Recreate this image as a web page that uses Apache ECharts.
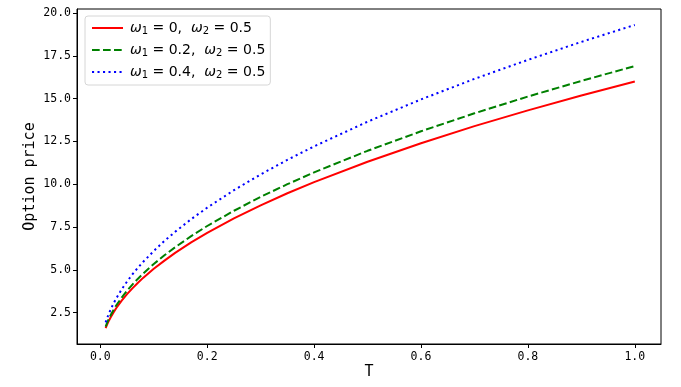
<!DOCTYPE html>
<html>
<head>
<meta charset="utf-8">
<script src="https://cdn.jsdelivr.net/npm/echarts@6/dist/echarts.min.js"></script>
<style>
  html, body { margin: 0; padding: 0; background: #fff; }
  #main { width: 681px; height: 387px; }
</style>
</head>
<body>
<div id="main"></div>
<script>
// values
const T = [0.01, 0.0125, 0.015, 0.02, 0.025, 0.03, 0.04, 0.05, 0.06, 0.07, 0.08, 0.1, 0.12, 0.14, 0.17, 0.2, 0.25, 0.3, 0.35, 0.4, 0.5, 0.6, 0.7, 0.8, 0.9, 1.0]
const priceW0 = [1.60, 1.79, 1.96, 2.26, 2.53, 2.77, 3.20, 3.58, 3.92, 4.23, 4.53, 5.06, 5.54, 5.99, 6.60, 7.16, 8.00, 8.76, 9.47, 10.12, 11.31, 12.39, 13.39, 14.31, 15.18, 16.00]
const priceW02 = [1.69, 1.89, 2.07, 2.39, 2.67, 2.93, 3.38, 3.78, 4.14, 4.47, 4.78, 5.34, 5.85, 6.32, 6.97, 7.56, 8.45, 9.26, 10.00, 10.69, 11.95, 13.09, 14.14, 15.12, 16.03, 16.90]
const priceW04 = [1.93, 2.16, 2.36, 2.73, 3.05, 3.34, 3.86, 4.32, 4.73, 5.11, 5.46, 6.10, 6.69, 7.22, 7.96, 8.63, 9.65, 10.57, 11.42, 12.21, 13.65, 14.95, 16.15, 17.26, 18.31, 19.30]
const xTicks = [0, 0.2, 0.4, 0.6, 0.8, 1.0]
const yTicks = [2.5, 5, 7.5, 10, 12.5, 15, 17.5, 20]
const seriesNames = ['w0', 'w02', 'w04']
const legendText = {
  w0: '{i|ω}{s|1}{t| = 0,  }{i|ω}{s|2}{t| = 0.5}',
  w02: '{i|ω}{s|1}{t| = 0.2,  }{i|ω}{s|2}{t| = 0.5}',
  w04: '{i|ω}{s|1}{t| = 0.4,  }{i|ω}{s|2}{t| = 0.5}'
}

const pair = (xs, ys) => xs.map((x, i) => [x, ys[i]])
const tickFont = { fontFamily: 'DejaVu Sans Mono', fontSize: 11.5, color: '#000' }

const chart = echarts.init(document.getElementById('main'), null, { renderer: 'canvas' })
chart.setOption({
  animation: false,
  backgroundColor: '#fff',
  grid: {
    left: 77, right: 20, top: 9, bottom: 43,
    show: true, borderColor: '#000', borderWidth: 1, backgroundColor: 'transparent'
  },
  legend: {
    orient: 'vertical',
    left: 85, top: 16,
    padding: [5, 5, 5, 6],
    itemWidth: 31, itemHeight: 14, itemGap: 7,
    backgroundColor: 'rgba(255,255,255,0.8)',
    borderColor: '#d6d6d6', borderWidth: 1, borderRadius: 3,
    data: seriesNames,
    formatter: n => legendText[n],
    itemStyle: { opacity: 0 },
    textStyle: {
      color: '#000',
      padding: [0, 0, 0, 2],
      rich: {
        i: { fontFamily: 'DejaVu Sans', fontStyle: 'italic', fontSize: 14, color: '#000' },
        s: { fontFamily: 'DejaVu Sans', fontSize: 10, color: '#000', verticalAlign: 'bottom', padding: [6, 0, 0, 0] },
        t: { fontFamily: 'DejaVu Sans', fontSize: 14, color: '#000' }
      }
    }
  },
  xAxis: {
    type: 'value',
    min: -0.0436, max: 1.049,
    name: 'T', nameLocation: 'middle', nameGap: 21, nameMoveOverlap: false,
    nameTextStyle: { fontFamily: 'DejaVu Sans Mono', fontSize: 15, color: '#000' },
    splitLine: { show: false },
    axisLine: { show: true, onZero: false, lineStyle: { color: '#000', width: 1 } },
    axisTick: { show: true, length: 4, lineStyle: { color: '#000' }, customValues: xTicks },
    axisLabel: Object.assign({ margin: 7, customValues: xTicks, formatter: v => v.toFixed(1) }, tickFont)
  },
  yAxis: {
    type: 'value',
    min: 0.67, max: 20.23,
    name: 'Option price', nameLocation: 'middle', nameGap: 39, nameRotate: 90, nameMoveOverlap: false,
    nameTextStyle: { fontFamily: 'DejaVu Sans Mono', fontSize: 15, color: '#000' },
    splitLine: { show: false },
    axisLine: { show: true, onZero: false, lineStyle: { color: '#000', width: 1 } },
    axisTick: { show: true, length: 4, lineStyle: { color: '#000' }, customValues: yTicks },
    axisLabel: Object.assign({ margin: 6, customValues: yTicks, formatter: v => v.toFixed(1) }, tickFont)
  },
  series: [
    {
      name: 'w0', type: 'line', data: pair(T, priceW0), showSymbol: false, symbol: 'none',
      lineStyle: { color: '#ff0000', width: 2, type: 'solid' }, itemStyle: { color: '#ff0000' }
    },
    {
      name: 'w02', type: 'line', data: pair(T, priceW02), showSymbol: false, symbol: 'none',
      lineStyle: { color: '#008000', width: 2, type: [7.7, 3.3] }, itemStyle: { color: '#008000' }
    },
    {
      name: 'w04', type: 'line', data: pair(T, priceW04), showSymbol: false, symbol: 'none',
      lineStyle: { color: '#0000ff', width: 2, type: [2.1, 3.4] }, itemStyle: { color: '#0000ff' }
    }
  ]
})
</script>
</body>
</html>
